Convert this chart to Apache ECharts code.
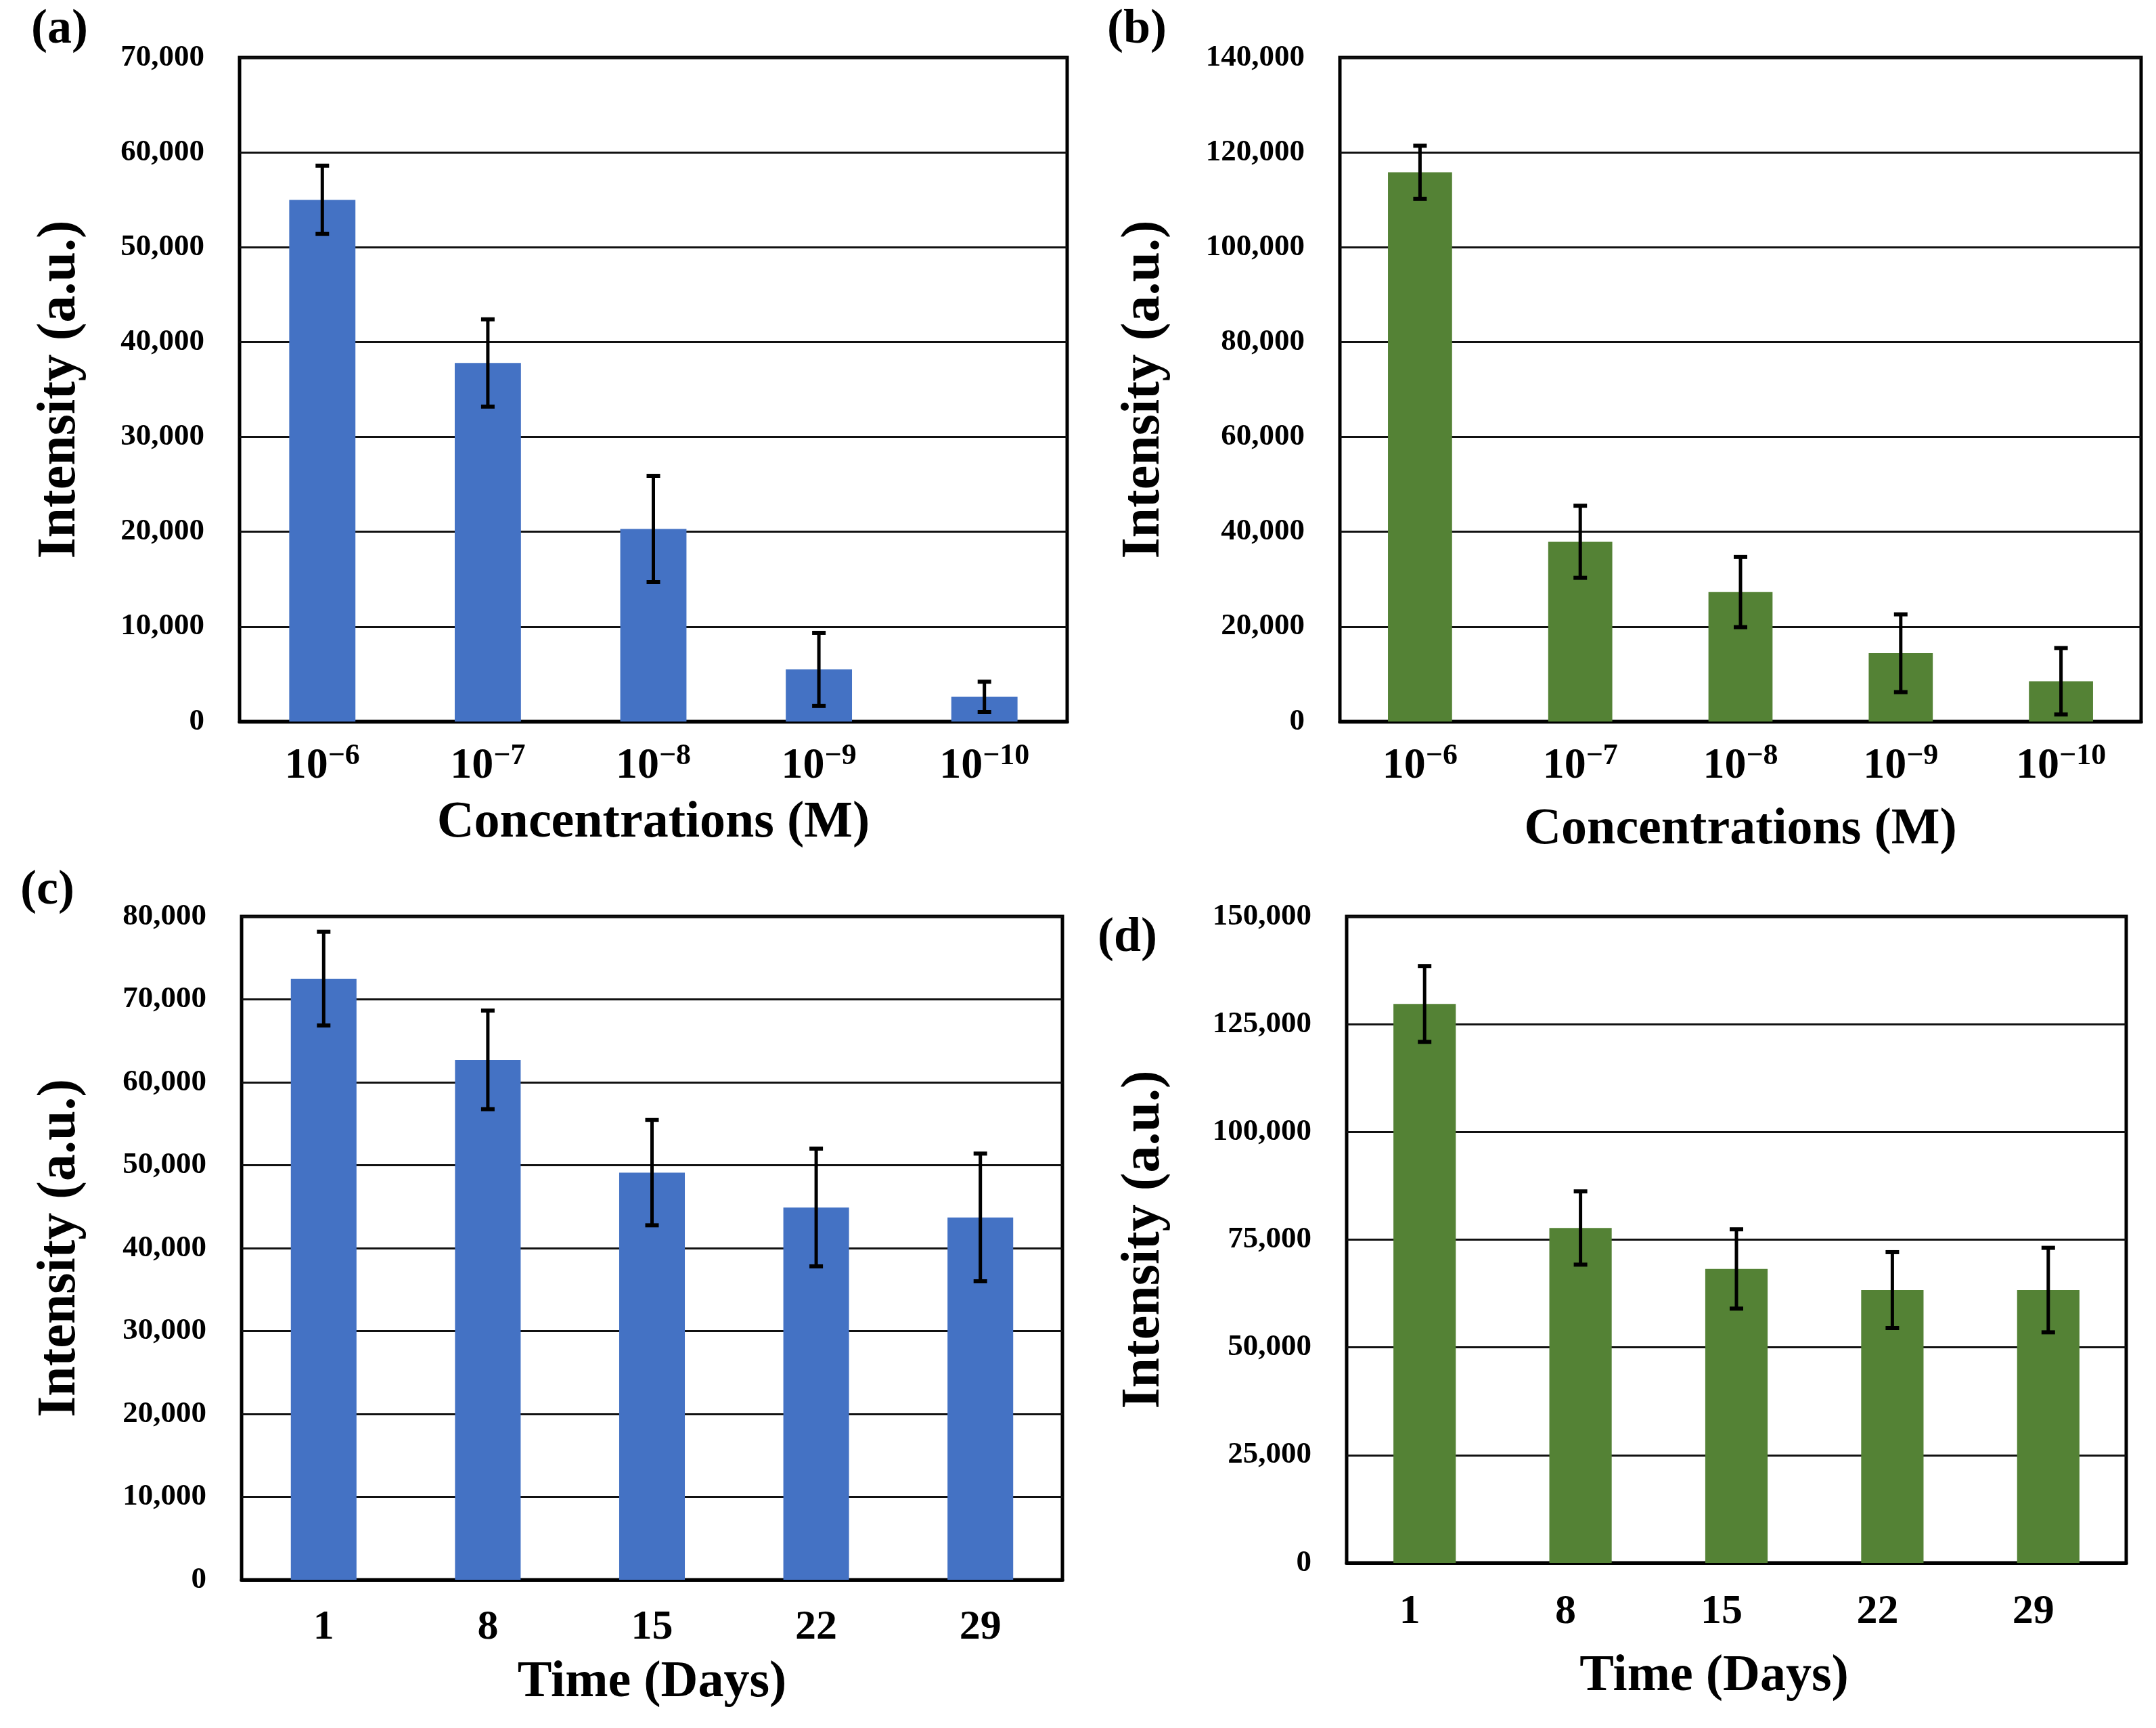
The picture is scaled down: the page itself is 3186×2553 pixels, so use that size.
<!DOCTYPE html>
<html><head><meta charset="utf-8">
<script src="https://cdn.jsdelivr.net/npm/echarts@6/dist/echarts.min.js"></script>
<style>html,body{margin:0;padding:0;background:#fff}#main{width:3186px;height:2553px}</style>
</head><body><div id="main"></div>
<script>
// ---- data ----
const concCategories = ['10^-6', '10^-7', '10^-8', '10^-9', '10^-10'];
const dayCategories = ['1', '8', '15', '22', '29'];
const aValues = [55000, 37800, 20300, 5500, 2600];
const aErrors = [3600, 4600, 5600, 3850, 1600];
const bValues = [115800, 37900, 27300, 14400, 8500];
const bErrors = [5600, 7600, 7400, 8200, 7000];
const cValues = [72500, 62700, 49100, 44900, 43700];
const cErrors = [5650, 5950, 6350, 7100, 7700];
const dValues = [129700, 77700, 68200, 63300, 63300];
const dErrors = [8800, 8500, 9200, 8800, 9800];
const yMax = [70000, 140000, 80000, 150000];
const yInterval = [10000, 20000, 10000, 25000];
const panelLabels = ['(a)', '(b)', '(c)', '(d)'];
const yTitle = 'Intensity (a.u.)';
const xTitles = ['Concentrations (M)', 'Concentrations (M)', 'Time (Days)', 'Time (Days)'];

// ---- style / layout ----
const FF = '"Liberation Serif", "Times New Roman", serif';
const BLUE = '#4472C4', GREEN = '#548235';
const grids = [
  {left: 354, top: 85, width: 1223, height: 981},
  {left: 1980, top: 85, width: 1184, height: 981},
  {left: 357, top: 1354, width: 1213, height: 980},
  {left: 1990, top: 1354, width: 1152, height: 955}
];
const yNameGap = [225, 249, 228, 259];
const xNameGap = [112, 122, 114, 130];
const xNamePadRight = [0, 0, 0, 66];
const xLabelMargin = [30, 30, 40, 42];
const xLabelPadRight = [0, 0, 0, 44];
const labelPos = [[46, 8], [1636, 8], [30, 1280], [1622, 1350]];

const panels = [
  {cats: concCategories, vals: aValues, errs: aErrors, color: BLUE},
  {cats: concCategories, vals: bValues, errs: bErrors, color: GREEN},
  {cats: dayCategories, vals: cValues, errs: cErrors, color: BLUE},
  {cats: dayCategories, vals: dValues, errs: dErrors, color: GREEN}
];

function errRender(params, api) {
  const i = api.value(0);
  const lo = api.coord([i, api.value(1)]);
  const hi = api.coord([i, api.value(2)]);
  const cap = 10;
  return {
    type: 'group',
    children: [
      {type: 'line', shape: {x1: lo[0], y1: lo[1], x2: hi[0], y2: hi[1]}, style: {stroke: '#000', lineWidth: 5}},
      {type: 'line', shape: {x1: hi[0] - cap, y1: hi[1], x2: hi[0] + cap, y2: hi[1]}, style: {stroke: '#000', lineWidth: 6}},
      {type: 'line', shape: {x1: lo[0] - cap, y1: lo[1], x2: lo[0] + cap, y2: lo[1]}, style: {stroke: '#000', lineWidth: 6}}
    ]
  };
}

const concLabel = {
  formatter: function (v) {
    const p = v.split('^');
    return '{b|' + p[0] + '}{s|' + p[1].replace('-', '\u2212') + '}';
  },
  rich: {
    b: {fontSize: 64, fontWeight: 'bold', fontFamily: FF, color: '#000', verticalAlign: 'bottom', lineHeight: 68},
    s: {fontSize: 44, fontWeight: 'bold', fontFamily: FF, color: '#000', verticalAlign: 'top', lineHeight: 36}
  }
};
const dayLabel = {fontSize: 62, fontWeight: 'bold', fontFamily: FF, color: '#000'};

const option = {
  animation: false,
  backgroundColor: '#fff',
  grid: grids.map(g => Object.assign({show: true, borderColor: '#000', borderWidth: 5, backgroundColor: 'transparent', containLabel: false}, g)),
  xAxis: panels.map((p, k) => ({
    type: 'category', gridIndex: k, data: p.cats,
    name: xTitles[k], nameLocation: 'middle', nameGap: xNameGap[k],
    nameTextStyle: {fontSize: 76, fontWeight: 'bold', fontFamily: FF, color: '#000', padding: [0, xNamePadRight[k], 0, 0]},
    axisLine: {show: true, lineStyle: {color: '#000', width: 5}},
    axisTick: {show: false},
    splitLine: {show: false},
    axisLabel: Object.assign({margin: xLabelMargin[k], interval: 0, padding: [0, xLabelPadRight[k], 0, 0]}, k < 2 ? concLabel : dayLabel)
  })),
  yAxis: panels.map((p, k) => ({
    type: 'value', gridIndex: k, min: 0, max: yMax[k], interval: yInterval[k],
    name: yTitle, nameLocation: 'middle', nameGap: yNameGap[k],
    nameTextStyle: {fontSize: 80, fontWeight: 'bold', fontFamily: FF, color: '#000'},
    axisLine: {show: false}, axisTick: {show: false},
    axisLabel: {margin: 52, fontSize: 45, fontWeight: 'bold', fontFamily: FF, color: '#000',
      formatter: v => v.toLocaleString('en-US')},
    splitLine: {show: true, lineStyle: {color: '#111', width: 3}}
  })),
  series: [].concat.apply([], panels.map((p, k) => [
    {type: 'bar', xAxisIndex: k, yAxisIndex: k, data: p.vals, barWidth: '40%', itemStyle: {color: p.color}},
    {type: 'custom', xAxisIndex: k, yAxisIndex: k, renderItem: errRender, z: 5,
      encode: {x: 0, y: [1, 2]},
      data: p.vals.map((v, i) => [i, v - p.errs[i], v + p.errs[i]])}
  ])),
  graphic: panelLabels.map((t, k) => ({
    type: 'text', left: labelPos[k][0], top: labelPos[k][1],
    style: {text: t, font: 'bold 72px ' + FF, fill: '#000'}
  }))
};

const chart = echarts.init(document.getElementById('main'), null, {renderer: 'canvas'});
chart.setOption(option);
</script></body></html>
